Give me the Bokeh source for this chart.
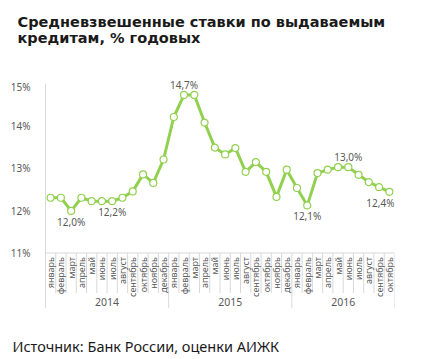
import math
from bokeh.plotting import figure
from bokeh.layouts import column
from bokeh.models import (FactorRange, ColumnDataSource, Range1d, FixedTicker,
                          PrintfTickFormatter, Title)
from bokeh.core.properties import value
from bokeh.embed import file_html
from bokeh.resources import INLINE

years = ["2014", "2015", "2016"]
months = ["январь", "февраль", "март", "апрель", "май", "июнь", "июль",
          "август", "сентябрь", "октябрь", "ноябрь", "декабрь"]
months_per_year = [12, 12, 10]
rates = [12.30, 12.30, 11.99, 12.30, 12.22, 12.22, 12.22, 12.30, 12.45, 12.85, 12.65, 13.20,
         14.20, 14.72, 14.72, 14.07, 13.48, 13.32, 13.47, 12.91, 13.14, 12.91, 12.32, 12.96,
         12.53, 12.12, 12.88, 12.96, 13.02, 13.02, 12.84, 12.67, 12.55, 12.44]
y_ticks = [11, 12, 13, 14, 15]
labels_above = [13, 29]
labels_below = [2, 6, 25, 33]

title_lines = ["Средневзвешенные ставки по выдаваемым", "кредитам, % годовых"]
source_note = "Источник: Банк России, оценки АИЖК"

factors = [(y, m) for y, n in zip(years, months_per_year) for m in months[:n]]
n = len(factors)

GREEN = "#92D050"
GRAY = "#595959"
LIGHT = "#D9D9D9"
DARK = "#1A1A1A"
FONT = "Noto Sans"

W = 427
TOP_H = 79
NOTE_H = 51


def strip(height):
    f = figure(width=W, height=height, output_backend="svg", toolbar_location=None,
               x_range=Range1d(0, 1), y_range=Range1d(0, 1), min_border=0)
    f.axis.visible = False
    f.grid.visible = False
    f.outline_line_color = None
    return f

# ---- title strip
t = strip(TOP_H)
t.add_layout(Title(text="\n".join(title_lines), text_font="DejaVu Sans",
                   text_font_style="bold", text_font_size="14.5px", text_color=DARK,
                   text_line_height=0.98, vertical_align="top", standoff=27,
                   offset=-28), "above")

# ---- main chart: value axis 42.5 px per percent, category area below the axis
ppu = 42.5
y_lo = y_ticks[0] - 55.5 / ppu
y_hi = y_ticks[-1] + 3.5 / ppu
frame_h = round((y_hi - y_lo) * ppu)

p = figure(width=W, height=frame_h, output_backend="svg", toolbar_location=None,
           x_range=FactorRange(*factors, factor_padding=0, group_padding=0,
                               subgroup_padding=0, range_padding=0),
           y_range=Range1d(y_lo, y_hi),
           min_border_left=45, min_border_right=33, min_border_top=0, min_border_bottom=0)
p.outline_line_color = None
p.grid.visible = False
p.xaxis.visible = False

ya = p.yaxis[0]
ya.bounds = (y_lo, y_ticks[-1])
ya.ticker = FixedTicker(ticks=y_ticks)
ya.formatter = PrintfTickFormatter(format="%d%%")
ya.major_tick_line_color = None
ya.minor_tick_line_color = None
ya.axis_line_color = LIGHT
ya.major_label_standoff = 9
ya.major_label_text_color = GRAY
ya.major_label_text_font = FONT
ya.major_label_text_font_size = "10px"

# category axis: line, boundaries, month and year labels
bounds_year = [0]
for k in months_per_year:
    bounds_year.append(bounds_year[-1] + k)
bounds_month = [i for i in range(1, n) if i not in bounds_year]
base = y_ticks[0]
p.segment(x0=[0], x1=[n], y0=[base], y1=[base], line_color=LIGHT, line_width=1)
p.segment(x0=bounds_month, x1=bounds_month, y0=[base] * len(bounds_month),
          y1=[base - 40 / ppu] * len(bounds_month), line_color=LIGHT, line_width=1)
p.segment(x0=bounds_year, x1=bounds_year, y0=[base] * len(bounds_year),
          y1=[y_lo] * len(bounds_year), line_color=LIGHT, line_width=1)

p.text(x=factors, y=[base - 4 / ppu] * n, text=[m for _, m in factors],
       angle=math.pi / 2, text_align="right", text_baseline="middle",
       text_color=GRAY, text_font=value(FONT), text_font_size="9px")
p.text(x=years, y=[base - 49 / ppu] * len(years), text=years,
       text_align="center", text_baseline="middle",
       text_color=GRAY, text_font=value(FONT), text_font_size="10.5px")

# series
src = ColumnDataSource(dict(x=factors, y=rates))
p.line("x", "y", source=src, line_color=GREEN, line_width=3)
p.scatter("x", "y", source=src, size=7, fill_color="white", line_color=GREEN, line_width=1.2)

# data labels
def fmt(v):
    return f"{v:.1f}".replace(".", ",") + "%"

lab_idx = labels_above + labels_below
lab = ColumnDataSource(dict(
    x=[factors[i] for i in lab_idx], y=[rates[i] for i in lab_idx],
    t=[fmt(rates[i]) for i in lab_idx],
    dy=[-10] * len(labels_above) + [11] * len(labels_below),
    dx=[-9 if i == n - 1 else 0 for i in lab_idx]))
p.text("x", "y", text="t", source=lab, x_offset="dx", y_offset="dy",
       text_align="center", text_baseline="middle", text_color=GRAY,
       text_font=value(FONT), text_font_size="10px")

# ---- source note strip
s = strip(NOTE_H)
s.add_layout(Title(text=source_note, text_font=FONT, text_font_style="normal",
                   text_font_size="14.5px", text_color=DARK, vertical_align="bottom",
                   standoff=8, offset=-33), "below")

layout = column(t, p, s, spacing=0)
open("out.html", "w").write(file_html(layout, INLINE))
